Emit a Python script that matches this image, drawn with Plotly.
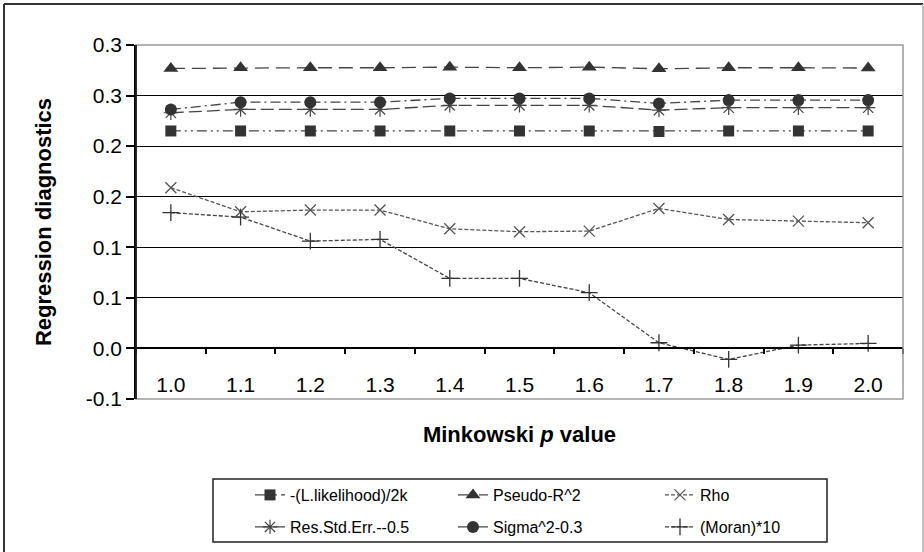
import plotly.graph_objects as go

# ---- data ----
p_values = ["1.0", "1.1", "1.2", "1.3", "1.4", "1.5", "1.6", "1.7", "1.8", "1.9", "2.0"]
lik = [0.215, 0.215, 0.215, 0.215, 0.215, 0.215, 0.215, 0.2145, 0.215, 0.215, 0.215]
pseudo_r2 = [0.2768, 0.2775, 0.2775, 0.2775, 0.2781, 0.2775, 0.2781, 0.2765, 0.2775, 0.2775, 0.2772]
rho = [0.1589, 0.1351, 0.1368, 0.1368, 0.1183, 0.1154, 0.1160, 0.1384, 0.1275, 0.1259, 0.1243]
res_std = [0.2330, 0.2363, 0.2363, 0.2363, 0.2403, 0.2403, 0.2403, 0.2356, 0.2380, 0.2380, 0.2380]
sigma2 = [0.2363, 0.2435, 0.2435, 0.2435, 0.2472, 0.2472, 0.2472, 0.2422, 0.2455, 0.2455, 0.2455]
moran = [0.1342, 0.1298, 0.1061, 0.1078, 0.0692, 0.0692, 0.0551, 0.0056, -0.0109, 0.0033, 0.0049]

y_tickvals = [-0.05, 0.0, 0.05, 0.10, 0.15, 0.20, 0.25, 0.30]
y_ticktext = ["-0.1", "0.0", "0.1", "0.1", "0.2", "0.2", "0.3", "0.3"]

series_names = ["-(L.likelihood)/2k", "Pseudo-R^2", "Rho",
                "Res.Std.Err.--0.5", "Sigma^2-0.3", "(Moran)*10"]

FONT = "Liberation Sans, Arial, sans-serif"

# pixel geometry of plot area
L, R, T, B = 136, 903, 45, 399
W, H = R - L, B - T


def px_x(px):
    return (px - L) / W


def px_y(py):
    return (B - py) / H


styles = [
    dict(y=lik, symbol="square", msize=11, mcolor="#333333", mline=0, dash="10px,4px,2px,4px,2px,4px", lcolor="#444444"),
    dict(y=pseudo_r2, symbol="triangle-up", msize=13, mcolor="#333333", mline=0, dash="14px,7px", lcolor="#444444"),
    dict(y=rho, symbol="x-thin-open", msize=11, mcolor="#555555", mline=1.3, dash="4px,2px", lcolor="#555555"),
    dict(y=res_std, symbol="asterisk-open", msize=12, mcolor="#444444", mline=1.2, dash="13px,5px", lcolor="#444444"),
    dict(y=sigma2, symbol="circle", msize=12, mcolor="#333333", mline=0, dash="10px,4px,2px,4px", lcolor="#444444"),
    dict(y=moran, symbol="cross-thin-open", msize=12, mcolor="#333333", mline=1.3, dash="4px,2px", lcolor="#444444"),
]

legend_names = ["legend", "legend2", "legend3", "legend4", "legend5", "legend6"]

fig = go.Figure()
for i, (name, st) in enumerate(zip(series_names, styles)):
    marker = dict(symbol=st["symbol"], size=st["msize"], color=st["mcolor"])
    if st["mline"]:
        marker["line"] = dict(width=st["mline"], color=st["mcolor"])
    else:
        marker["line"] = dict(width=0)
    fig.add_trace(go.Scatter(
        x=p_values, y=st["y"], name=name, mode="lines+markers",
        line=dict(color=st["lcolor"], width=1.3, dash=st["dash"]),
        marker=marker, legend=legend_names[i],
    ))

# legend item placement (one legend per entry)
text_x = [292, 495, 702]
row_y = [495, 527]
legend_layouts = {}
for i, ln in enumerate(legend_names):
    col, row = i % 3, i // 3
    legend_layouts[ln] = dict(
        x=px_x(text_x[col] - 42), xanchor="left",
        y=px_y(row_y[row]), yanchor="middle",
        bgcolor="rgba(0,0,0,0)", borderwidth=0,
        font=dict(family=FONT, size=16, color="#000000"),
        orientation="h",
    )

fig.update_layout(
    width=924, height=552,
    margin=dict(l=L, r=924 - R, t=T, b=552 - B, autoexpand=False),
    paper_bgcolor="white", plot_bgcolor="white",
    showlegend=True,
    font=dict(family=FONT, color="#000000"),
    xaxis=dict(
        type="category", categoryorder="array", categoryarray=p_values,
        range=[-0.5, 10.5], tickson="boundaries",
        anchor="free", position=1 / 7,
        showline=True, linecolor="#000000", linewidth=1.5,
        ticks="outside", ticklen=5, tickcolor="#000000", tickwidth=1.5,
        showgrid=False, zeroline=False,
        tickfont=dict(family=FONT, size=21, color="#000000"),
        ticklabelstandoff=18,
        title=dict(text="<b>Minkowski <i>p</i> value</b>", standoff=30,
                   font=dict(family=FONT, size=22, color="#000000")),
        automargin=False,
    ),
    yaxis=dict(
        range=[-0.05, 0.30], tickmode="array", tickvals=y_tickvals, ticktext=y_ticktext,
        showline=True, linecolor="#000000", linewidth=1.5,
        ticks="outside", ticklen=8, tickcolor="#000000", tickwidth=1.5,
        showgrid=True, gridcolor="#000000", gridwidth=1.3, zeroline=False,
        tickfont=dict(family=FONT, size=21, color="#000000"),
        title=dict(text="<b>Regression diagnostics</b>", standoff=28,
                   font=dict(family=FONT, size=22, color="#000000")),
        automargin=False,
    ),
    shapes=[
        # plot area border (grey)
        dict(type="rect", xref="paper", yref="paper", x0=0, x1=1, y0=0, y1=1,
             line=dict(color="#9a9a9a", width=1.5), layer="above"),
        # legend box
        dict(type="rect", xref="paper", yref="paper",
             x0=px_x(213), x1=px_x(827), y0=px_y(542), y1=px_y(479),
             line=dict(color="#222222", width=1.5)),
        # outer chart border: top and left dark, right light grey
        dict(type="line", xref="paper", yref="paper",
             x0=px_x(4), x1=px_x(923), y0=px_y(4), y1=px_y(4),
             line=dict(color="#333333", width=2)),
        dict(type="line", xref="paper", yref="paper",
             x0=px_x(4), x1=px_x(4), y0=px_y(4), y1=px_y(553),
             line=dict(color="#333333", width=2)),
        dict(type="line", xref="paper", yref="paper",
             x0=px_x(923), x1=px_x(923), y0=px_y(4), y1=px_y(553),
             line=dict(color="#b0b0b0", width=1.5)),
    ],
    **legend_layouts,
)

# redraw the y-axis line on top of the grey border
fig.add_shape(type="line", xref="paper", yref="paper", x0=0, x1=0, y0=0, y1=1,
              line=dict(color="#000000", width=1.5), layer="above")

fig.write_html("out.html", config={"displayModeBar": False},
               post_script="document.body.style.margin='0';document.body.style.overflow='hidden';")
